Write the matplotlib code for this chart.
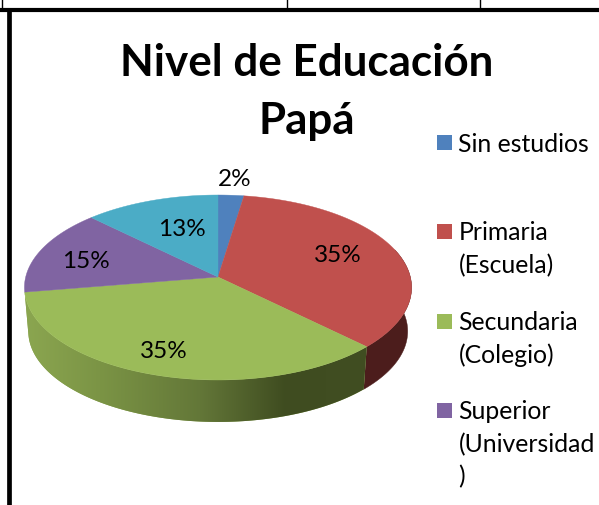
import numpy as np
import matplotlib
matplotlib.use("Agg")
import matplotlib.pyplot as plt
from matplotlib.colors import to_rgb

plt.rcParams['font.family'] = ['Lato', 'DejaVu Sans']

# data
title_lines = ["Nivel de Educación", "Papá"]
values = [2.4, 35, 35, 15, 12.6]
colors = ["#4f81bd", "#c0504d", "#9bbb59", "#8064a2", "#4bacc6"]
legend_labels = ["Sin estudios", "Primaria\n(Escuela)", "Secundaria\n(Colegio)",
                 "Superior\n(Universidad\n)"]

# layout, in reference pixels
W, H = 599, 506
CX, CY = 218, 278
A, B, K = 91.3, 192.3, 0.1135
DEPTH, BOTTOM_SCALE = 44, 0.98
label_pos = [(235, 179), (338, 255), (164, 351), (86, 261), (182, 229)]
legend_y = [144, 233, 323, 412]
line_step = 32.3

# shading of the side wall, by pixel x
green_x = [25, 100, 200, 285, 366]
green_side = ["#8ba650", "#7b9445", "#637738", "#3f4c20", "#414e22"]
red_side = "#4c1d1c"


def project(theta, scale=1.0, drop=0.0):
    # tilted circle with perspective, theta clockwise from the top
    den = 1 + K * np.cos(theta)
    x = CX + scale * B * np.sin(theta) / den
    y = CY - scale * A * np.cos(theta) / den + drop
    return x, y


def wall(start, end):
    t = np.linspace(start, end, 200)
    x0, y0 = project(t)
    x1, y1 = project(t[::-1], BOTTOM_SCALE, DEPTH)
    return np.r_[x0, x1], np.r_[y0, y1]


fig = plt.figure(figsize=(W / 100, H / 100), dpi=100)
ax = fig.add_axes([0, 0, 1, 1])

# table borders
ax.plot([0, W], [10.5, 10.5], color="black", lw=3.0, solid_capstyle="butt")
ax.plot([9, 9], [10, H], color="black", lw=3.4, solid_capstyle="butt")
for x in [1.5, 287, 480]:
    ax.plot([x, x], [0, 9], color="black", lw=1.0, solid_capstyle="butt")

edges = 2 * np.pi * np.cumsum([0] + values) / sum(values)

# side walls: red is flat, green has a horizontal gradient
wx, wy = wall(np.pi * 0.4, edges[2])
ax.fill(wx, wy, color=red_side, lw=0.3, zorder=1)

wx, wy = wall(edges[2], edges[3])
green_poly = ax.fill(wx, wy, color=green_side[0], lw=0, zorder=1)[0]
grid = np.arange(0, W)
rgb = np.array([to_rgb(c) for c in green_side])
strip = np.stack([np.interp(grid, green_x, rgb[:, i]) for i in range(3)], axis=-1)[None, :, :]
im = ax.imshow(strip, extent=[0, W, H, 0], aspect="auto", interpolation="bilinear", zorder=1.5)
im.set_clip_path(green_poly)

# top face
for i, color in enumerate(colors):
    t = np.linspace(edges[i], edges[i + 1], 120)
    x, y = project(t)
    ax.fill(np.r_[CX, x], np.r_[CY, y], color=color, lw=0.3, zorder=2)

for v, (x, y) in zip(values, label_pos):
    ax.text(x, y, f"{v:.0f}%", fontsize=17.5, ha="center", va="center", color="black", zorder=3)

ax.text(307, 63, title_lines[0], fontsize=31.7, fontweight="bold", ha="center", va="center")
ax.text(307, 121, title_lines[1], fontsize=31.7, fontweight="bold", ha="center", va="center")

# legend
for label, color, y in zip(legend_labels, colors, legend_y):
    ax.add_patch(plt.Rectangle((437, y - 8.5), 15, 15, color=color, lw=0))
    for j, line in enumerate(label.split("\n")):
        ax.text(458.5, y + j * line_step, line, fontsize=17.8, ha="left", va="center")

ax.set_xlim(0, W)
ax.set_ylim(H, 0)
ax.axis("off")

fig.savefig("out.png", dpi=100)
